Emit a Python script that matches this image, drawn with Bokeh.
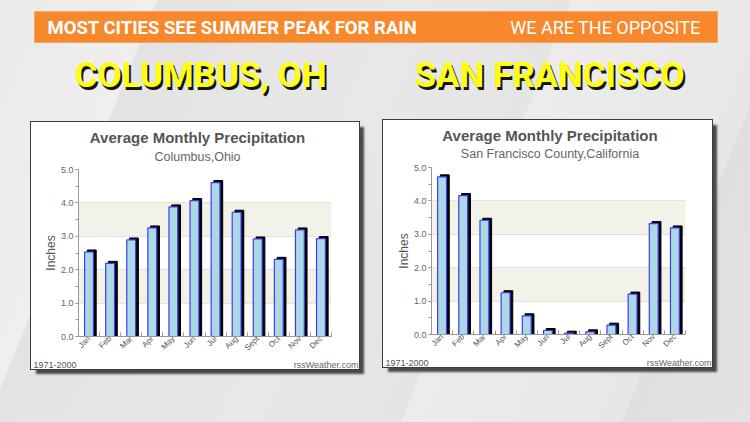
import math
from bokeh.plotting import figure
from bokeh.models import (Range1d, FixedTicker, SingleIntervalTicker, NumeralTickFormatter,
                          Spacer, ColumnDataSource, Plot)
from bokeh.layouts import column, row
from bokeh.transform import dodge
from bokeh.core.properties import value
from bokeh.embed import file_html
from bokeh.resources import INLINE

# ---------------- data ----------------
months = ["Jan", "Feb", "Mar", "Apr", "May", "Jun", "Jul", "Aug", "Sept", "Oct", "Nov", "Dec"]
columbus_in = [2.53, 2.19, 2.89, 3.25, 3.88, 4.07, 4.61, 3.72, 2.92, 2.31, 3.19, 2.93]
sanfran_in = [4.72, 4.16, 3.42, 1.25, 0.56, 0.12, 0.04, 0.08, 0.28, 1.21, 3.32, 3.19]
y_max = 5

banner_left = "MOST CITIES SEE SUMMER PEAK FOR RAIN"
banner_right = "WE ARE THE OPPOSITE"
city_left = "COLUMBUS, OH"
city_right = "SAN FRANCISCO"
chart_title = "Average Monthly Precipitation"
sub_left = "Columbus,Ohio"
sub_right = "San Francisco County,California"
y_label = "Inches"
period = "1971-2000"
credit = "rssWeather.com"

ARIAL = "Liberation Sans"
HAS_FA = "frame_align" in Plot.properties()


def unalign(fig):
    if HAS_FA:
        fig.frame_align = False
        return fig
    return row(fig)


def strip(w, h):
    s = figure(width=w, height=h, x_range=Range1d(0, w), y_range=Range1d(h, 0),
               output_backend="svg", toolbar_location=None, min_border=0,
               x_axis_location=None, y_axis_location=None)
    s.grid.visible = False
    s.background_fill_color = "white"
    s.border_fill_color = "white"
    s.outline_line_color = None
    return s


def make_card(subtitle, vals, w, bl, br, title_y, sub_y):
    top_h, frame_h, axis_h, foot_h = 44, 167, 22, 11
    # title strip
    top = strip(w, top_h)
    top.text(x=[w / 2 + 2], y=[title_y], text=[chart_title], text_font=value(ARIAL),
             text_font_style="bold", text_font_size="15px", text_color="#555555",
             text_align="center", text_baseline="middle")
    top.text(x=[w / 2 + 2], y=[sub_y], text=[subtitle], text_font=value(ARIAL),
             text_font_size="12.5px", text_color="#666666",
             text_align="center", text_baseline="middle")

    # chart
    idx = list(range(len(months)))
    src = ColumnDataSource(dict(idx=idx, month=months, val=vals))
    p = figure(width=w, height=3 + frame_h + axis_h, x_range=Range1d(-0.5, len(months) - 0.5),
               y_range=Range1d(0, y_max), output_backend="svg", toolbar_location=None,
               min_border_left=bl, min_border_right=br, min_border_top=3,
               min_border_bottom=axis_h)
    p.background_fill_color = "white"
    p.border_fill_color = "white"
    p.outline_line_color = None

    yt = SingleIntervalTicker(interval=1, num_minor_ticks=2)
    p.yaxis.ticker = yt
    p.ygrid.ticker = yt
    p.yaxis.formatter = NumeralTickFormatter(format="0.0")
    p.yaxis.axis_label = y_label
    p.yaxis.axis_label_text_font = ARIAL
    p.yaxis.axis_label_text_font_style = "normal"
    p.yaxis.axis_label_text_font_size = "12px"
    p.yaxis.axis_label_text_color = "#555555"
    p.yaxis.axis_label_standoff = 0
    p.yaxis.major_label_text_font = ARIAL
    p.yaxis.major_label_text_font_size = "9px"
    p.yaxis.major_label_text_color = "#666666"
    p.yaxis.major_label_standoff = 2
    p.yaxis.major_tick_in = 0
    p.yaxis.major_tick_out = 3
    p.yaxis.minor_tick_in = 0
    p.yaxis.minor_tick_out = 3
    p.yaxis.axis_line_color = "#999999"
    p.yaxis.major_tick_line_color = "#999999"
    p.yaxis.minor_tick_line_color = "#999999"
    p.ygrid.grid_line_color = "#e2e2e2"
    p.ygrid.band_fill_color = "#f2f2e8"
    p.ygrid.band_fill_alpha = 1.0

    p.xaxis.ticker = FixedTicker(ticks=idx, minor_ticks=[i - 0.5 for i in idx] + [idx[-1] + 0.5])
    p.xaxis.major_label_overrides = {i: m for i, m in zip(idx, months)}
    p.xaxis.major_label_orientation = math.pi / 4
    p.xaxis.major_label_text_font = ARIAL
    p.xaxis.major_label_text_font_size = "8px"
    p.xaxis.major_label_text_color = "#555555"
    p.xaxis.major_label_standoff = 1
    p.xaxis.major_tick_in = 0
    p.xaxis.major_tick_out = 0
    p.xaxis.minor_tick_in = 4
    p.xaxis.minor_tick_out = 0
    p.xaxis.axis_line_color = "#999999"
    p.xaxis.minor_tick_line_color = "#999999"
    p.xgrid.visible = False

    # 3-D look: black depth behind each bar, then the bar itself
    p.vbar(x=dodge("idx", 0.13), top=dodge("val", 0.06), bottom=0, width=0.42,
           source=src, fill_color="black", line_color="black")
    p.vbar(x="idx", top="val", bottom=0, width=0.42, source=src,
           fill_color="#acd8e6", line_color="#3c3cf5", line_width=1.2)

    # footer strip
    foot = strip(w, foot_h)
    foot.text(x=[2], y=[5.5], text=[period], text_font=value(ARIAL),
              text_font_size="9px", text_color="#555555", text_align="left",
              text_baseline="middle")
    foot.text(x=[w - 1], y=[5.5], text=[credit], text_font=value(ARIAL),
              text_font_size="9px", text_color="#666666", text_align="right",
              text_baseline="middle")

    return column(unalign(top), unalign(p), unalign(foot),
                  styles={"outline": "1px solid #3c3c3c", "box-shadow": "5px 5px 2px #4a4a4a",
                          "background": "white"})


card1 = make_card(sub_left, columbus_in, 328, 47, 28, 15, 34)
card2 = make_card(sub_right, sanfran_in, 329, 48, 27, 15, 33)

# ---------------- header ----------------
hdr = figure(width=750, height=120, x_range=Range1d(0, 750), y_range=Range1d(120, 0),
             output_backend="svg", toolbar_location=None, min_border=0,
             x_axis_location=None, y_axis_location=None)
hdr.grid.visible = False
hdr.background_fill_alpha = 0
hdr.border_fill_alpha = 0
hdr.outline_line_color = None
hdr.quad(left=[34], right=[717], top=[11], bottom=[42], fill_color="#f7882b",
         line_color="#f9a466", line_width=1)
hdr.text(x=[47], y=[27], text=[banner_left], text_font=value("Roboto"), text_font_style="bold",
         text_font_size="18.5px", text_color="white", text_baseline="middle", text_align="left")
hdr.text(x=[700], y=[27], text=[banner_right], text_font=value("Roboto"),
         text_font_size="18px", text_color="white", text_baseline="middle", text_align="right")
for cx, name in ((74, city_left), (414, city_right)):
    hdr.text(x=[cx + 2], y=[77.5], text=[name], text_font=value("Roboto"), text_font_style="bold",
             text_font_size="35px", text_color="#151515", text_baseline="middle", text_align="left")
    hdr.text(x=[cx], y=[75], text=[name], text_font=value("Roboto"), text_font_style="bold",
             text_font_size="35px", text_color="#ffff14", text_baseline="middle", text_align="left")

bg = ("linear-gradient(112deg, #eaeaea 0%, #efefef 17%, #e3e3e3 17.2%, #e8e8e8 45%, "
      "#e4e4e4 62%, #ececec 62.2%, #e7e7e7 86%, #dfdfdf 86.2%, #e3e3e3 100%)")

layout = column(
    hdr,
    row(Spacer(width=31), column(Spacer(height=2), card1), Spacer(width=24), card2, Spacer(width=38)),
    Spacer(height=53),
    styles={"background": bg},
)

open("out.html", "w").write(file_html(layout, INLINE))
